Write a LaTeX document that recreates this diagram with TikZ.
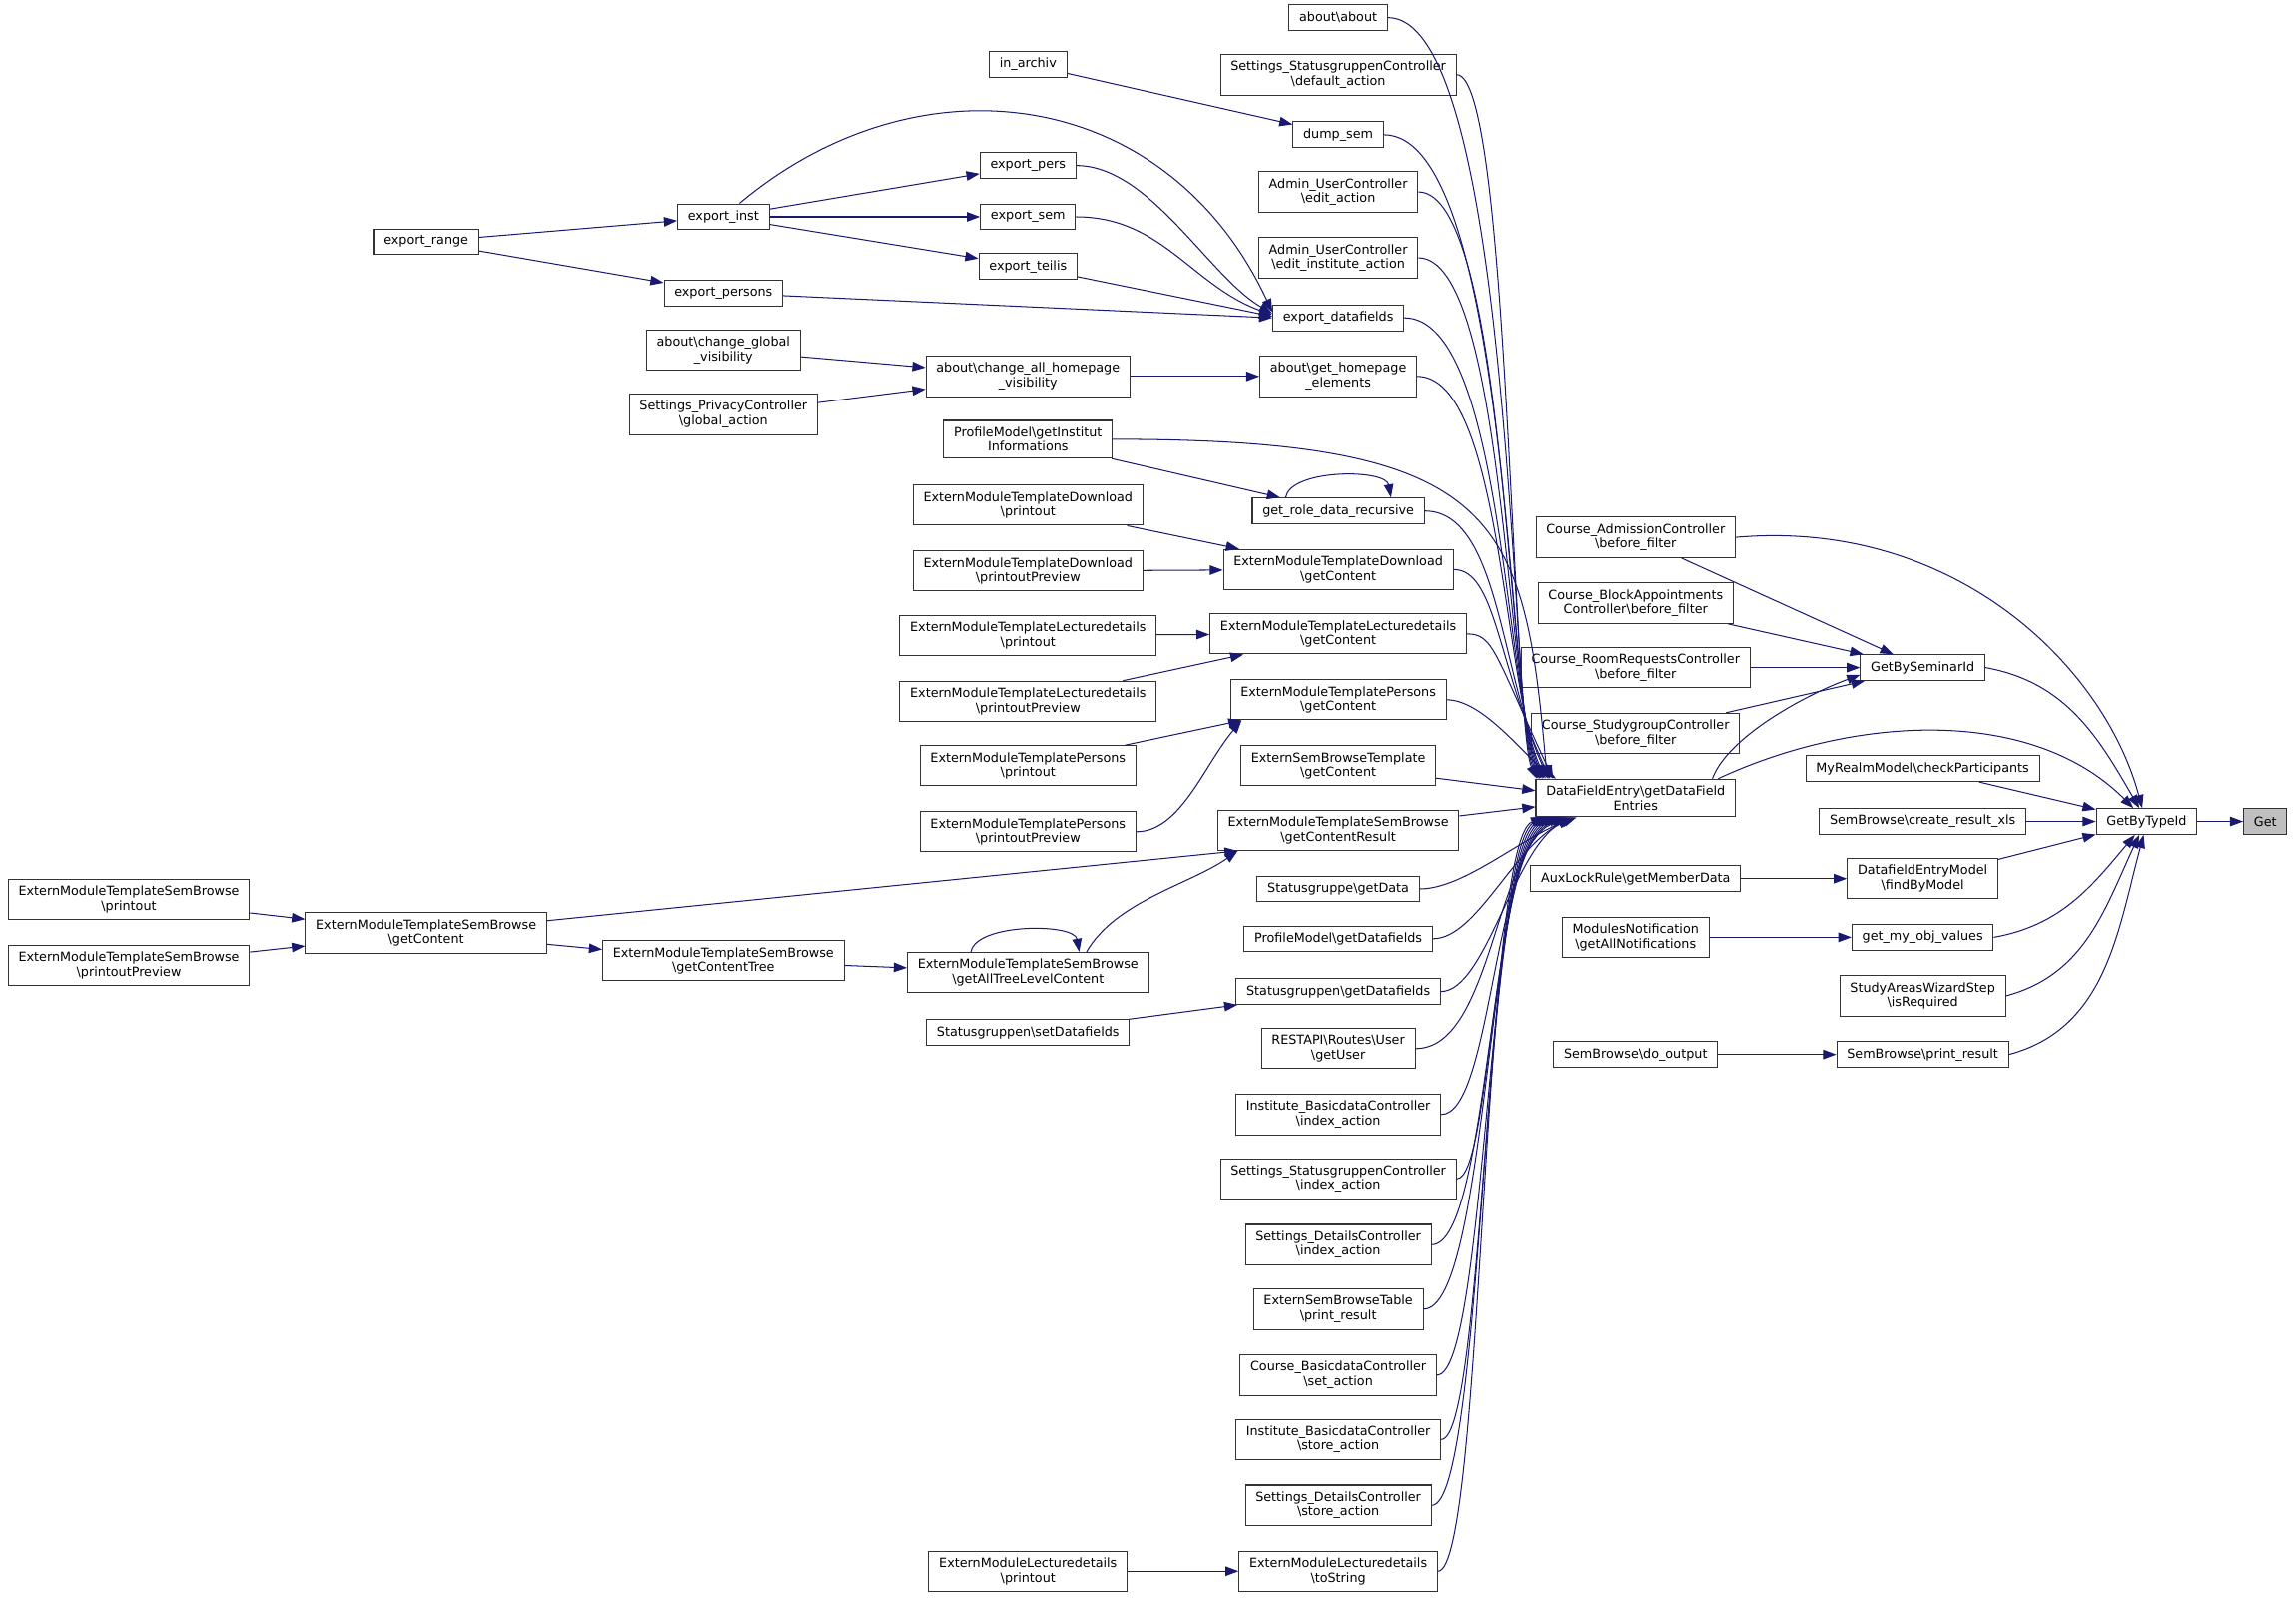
\documentclass[tikz,border=0pt]{standalone}
\usepackage{fontspec}
\usepackage{tikz}
\usetikzlibrary{arrows.meta}

\newfontfamily\graphfont{DejaVu Sans}
\definecolor{edgeblue}{HTML}{191970}
\newcommand{\bsl}{\textbackslash}

\tikzset{
  fn/.style={draw=black!80, line width=0.7pt, fill=white, align=center,
    font=\graphfont\fontsize{8.7}{10}\selectfont,
    inner xsep=7pt, inner ysep=4.5pt, minimum height=17.5pt},
  curfn/.style={fn, fill=black!25},
  call/.style={edgeblue, line width=0.7pt, -{Triangle[length=9pt, width=6.5pt]}}
}

\begin{document}
\begin{tikzpicture}[x=1pt, y=1pt]
        \useasboundingbox (0,0) rectangle (1568,-1092);

        % right part
        \node[curfn] (get) at (1547,-561) {Get};
        \node[fn] (gbt) at (1466,-561) {GetByTypeId};
        \node[fn] (gbs) at (1313,-456) {GetBySeminarId};
        \node[fn] (cpart) at (1313,-525) {MyRealmModel\bsl checkParticipants};
        \node[fn] (crxls) at (1313,-561) {SemBrowse\bsl create\_result\_xls};
        \node[fn] (fbm) at (1313,-600) {DatafieldEntryModel\\\bsl findByModel};
        \node[fn] (gmov) at (1313,-640) {get\_my\_obj\_values};
        \node[fn] (isreq) at (1313,-680) {StudyAreasWizardStep\\\bsl isRequired};
        \node[fn] (sbpr) at (1313,-720) {SemBrowse\bsl print\_result};

        \node[fn] (cadm) at (1117,-367) {Course\_AdmissionController\\\bsl before\_filter};
        \node[fn] (cblk) at (1117,-412) {Course\_BlockAppointments\\Controller\bsl before\_filter};
        \node[fn] (croom) at (1117,-456) {Course\_RoomRequestsController\\\bsl before\_filter};
        \node[fn] (cstud) at (1117,-501) {Course\_StudygroupController\\\bsl before\_filter};
        \node[fn] (dfe) at (1117,-545) {DataFieldEntry\bsl getDataField\\Entries};
        \node[fn] (aux) at (1117,-600) {AuxLockRule\bsl getMemberData};
        \node[fn] (mnot) at (1117,-640) {ModulesNotification\\\bsl getAllNotifications};
        \node[fn] (sbout) at (1117,-720) {SemBrowse\bsl do\_output};

        % callers of DataFieldEntry
        \node[fn] (about) at (914,-12) {about\bsl about};
        \node[fn] (sdef) at (914,-51) {Settings\_StatusgruppenController\\\bsl default\_action};
        \node[fn] (dump) at (914,-92) {dump\_sem};
        \node[fn] (aedit) at (914,-131) {Admin\_UserController\\\bsl edit\_action};
        \node[fn] (aeinst) at (914,-176) {Admin\_UserController\\\bsl edit\_institute\_action};
        \node[fn] (edf) at (914,-217) {export\_datafields};
        \node[fn] (ghome) at (914,-257) {about\bsl get\_homepage\\\_elements};
        \node[fn] (grdr) at (914,-349) {get\_role\_data\_recursive};
        \node[fn] (tdlc) at (914,-389) {ExternModuleTemplateDownload\\\bsl getContent};
        \node[fn] (tlecc) at (914,-433) {ExternModuleTemplateLecturedetails\\\bsl getContent};
        \node[fn] (tpersc) at (914,-478) {ExternModuleTemplatePersons\\\bsl getContent};
        \node[fn] (sbtc) at (914,-523) {ExternSemBrowseTemplate\\\bsl getContent};
        \node[fn] (tsbr) at (914,-567) {ExternModuleTemplateSemBrowse\\\bsl getContentResult};
        \node[fn] (sgdata) at (914,-607) {Statusgruppe\bsl getData};
        \node[fn] (pgdf) at (914,-641) {ProfileModel\bsl getDatafields};
        \node[fn] (sgdf) at (914,-677) {Statusgruppen\bsl getDatafields};
        \node[fn] (rest) at (914,-716) {RESTAPI\bsl Routes\bsl User\\\bsl getUser};
        \node[fn] (ibidx) at (914,-761) {Institute\_BasicdataController\\\bsl index\_action};
        \node[fn] (ssidx) at (914,-805) {Settings\_StatusgruppenController\\\bsl index\_action};
        \node[fn] (sdidx) at (914,-850) {Settings\_DetailsController\\\bsl index\_action};
        \node[fn] (sbtab) at (914,-894) {ExternSemBrowseTable\\\bsl print\_result};
        \node[fn] (cbset) at (914,-939) {Course\_BasicdataController\\\bsl set\_action};
        \node[fn] (ibstore) at (914,-983) {Institute\_BasicdataController\\\bsl store\_action};
        \node[fn] (sdstore) at (914,-1028) {Settings\_DetailsController\\\bsl store\_action};
        \node[fn] (tostr) at (914,-1073) {ExternModuleLecturedetails\\\bsl toString};

        % next column
        \node[fn] (inarch) at (702,-44) {in\_archiv};
        \node[fn] (epers) at (702,-113) {export\_pers};
        \node[fn] (esem) at (702,-148) {export\_sem};
        \node[fn] (eteil) at (702,-182) {export\_teilis};
        \node[fn] (chall) at (702,-257) {about\bsl change\_all\_homepage\\\_visibility};
        \node[fn] (pinst) at (702,-300) {ProfileModel\bsl getInstitut\\Informations};
        \node[fn] (tdlp) at (702,-345) {ExternModuleTemplateDownload\\\bsl printout};
        \node[fn] (tdlpp) at (702,-390) {ExternModuleTemplateDownload\\\bsl printoutPreview};
        \node[fn] (tlecp) at (702,-434) {ExternModuleTemplateLecturedetails\\\bsl printout};
        \node[fn] (tlecpp) at (702,-479) {ExternModuleTemplateLecturedetails\\\bsl printoutPreview};
        \node[fn] (tpersp) at (702,-523) {ExternModuleTemplatePersons\\\bsl printout};
        \node[fn] (tperspp) at (702,-568) {ExternModuleTemplatePersons\\\bsl printoutPreview};
        \node[fn] (tsbatl) at (702,-664) {ExternModuleTemplateSemBrowse\\\bsl getAllTreeLevelContent};
        \node[fn] (sgset) at (702,-705) {Statusgruppen\bsl setDatafields};
        \node[fn] (lecp) at (702,-1073) {ExternModuleLecturedetails\\\bsl printout};

        \node[fn] (einst) at (494,-148) {export\_inst};
        \node[fn] (epersons) at (494,-200) {export\_persons};
        \node[fn] (chglob) at (494,-239) {about\bsl change\_global\\\_visibility};
        \node[fn] (privg) at (494,-283) {Settings\_PrivacyController\\\bsl global\_action};
        \node[fn] (tsbtree) at (494,-656) {ExternModuleTemplateSemBrowse\\\bsl getContentTree};

        \node[fn] (erange) at (291,-165) {export\_range};
        \node[fn] (tsbc) at (291,-637) {ExternModuleTemplateSemBrowse\\\bsl getContent};

        \node[fn] (tsbp) at (88,-614) {ExternModuleTemplateSemBrowse\\\bsl printout};
        \node[fn] (tsbpp) at (88,-659) {ExternModuleTemplateSemBrowse\\\bsl printoutPreview};

        % edges to Get and GetByTypeId
        \path [call] (gbt) edge (get);
        \path [call] (gbs.east) edge[out=-10, in=120] ([xshift=-5]gbt.north);
        \path [call] (cadm.east) edge[out=5, in=105, out distance=150pt, in distance=100pt] ([xshift=-3]gbt.north);
        \path [call] ([xshift=-12]dfe.north east) edge[out=25, in=135, out distance=100pt, in distance=100pt] ([xshift=-9]gbt.north);
        \path [call] (cpart) edge (gbt);
        \path [call] (crxls) edge (gbt);
        \path [call] (fbm) edge (gbt);
        \path [call] (gmov.east) edge[out=10, in=230] ([xshift=-8]gbt.south);
        \path [call] (isreq.east) edge[out=15, in=245] ([xshift=-5]gbt.south);
        \path [call] (sbpr.east) edge[out=15, in=255] ([xshift=-2]gbt.south);

        % edges to GetBySeminarId
        \path [call] (cadm) edge (gbs);
        \path [call] (cblk) edge (gbs);
        \path [call] (croom) edge (gbs);
        \path [call] (cstud) edge (gbs);
        \path [call] ([xshift=-16]dfe.north east) edge[out=70, in=200, out distance=30pt, in distance=40pt] ([yshift=-5]gbs.west);

        \path [call] (aux) edge (fbm);
        \path [call] (mnot) edge (gmov);
        \path [call] (sbout) edge (sbpr);

        % edges to DataFieldEntry, from above
        \path [call] (about.east) edge[out=0, in=115, out distance=85pt, in distance=40pt] ([xshift=1]dfe.north west);
        \path [call] (sdef.east) edge[out=0, in=115, out distance=36pt, in distance=45pt] ([xshift=2]dfe.north west);
        \path [call] (dump.east) edge[out=0, in=115, out distance=85pt, in distance=50pt] ([xshift=3]dfe.north west);
        \path [call] (aedit.east) edge[out=0, in=115, out distance=60pt, in distance=54pt] ([xshift=4]dfe.north west);
        \path [call] (aeinst.east) edge[out=0, in=115, out distance=59pt, in distance=59pt] ([xshift=5]dfe.north west);
        \path [call] (edf.east) edge[out=0, in=115, out distance=68pt, in distance=64pt] ([xshift=6]dfe.north west);
        \path [call] (ghome.east) edge[out=0, in=115, out distance=58pt, in distance=69pt] ([xshift=7]dfe.north west);
        \path [call] (pinst.east) edge[out=0, in=95, out distance=265pt, in distance=180pt] ([xshift=8]dfe.north west);
        \path [call] (grdr.east) edge[out=0, in=115, out distance=51pt, in distance=78pt] ([xshift=9]dfe.north west);
        \path [call] (tdlc.east) edge[out=0, in=115, out distance=29pt, in distance=85pt] ([xshift=10]dfe.north west);
        \path [call] (tlecc.east) edge[out=0, in=115, out distance=18pt, in distance=95pt] ([xshift=12]dfe.north west);
        \path [call] (tpersc.east) edge[out=0, in=145, out distance=25pt, in distance=25pt] ([xshift=14]dfe.north west);
        \path [call] (sbtc) edge ([yshift=5]dfe.west);
        \path [call] (tsbr) edge ([yshift=-6]dfe.west);

        % edges to DataFieldEntry, from below
        \path [call] (sgdata.east) edge[out=0, in=200, out distance=30pt, in distance=40pt] ([xshift=28]dfe.south west);
        \path [call] (pgdf.east) edge[out=0, in=205, out distance=30pt, in distance=45pt] ([xshift=26]dfe.south west);
        \path [call] (sgdf.east) edge[out=0, in=210, out distance=30pt, in distance=45pt] ([xshift=24]dfe.south west);
        \path [call] (rest.east) edge[out=0, in=200, out distance=53pt, in distance=53pt] ([xshift=22]dfe.south west);
        \path [call] (ibidx.east) edge[out=0, in=200, out distance=35pt, in distance=52pt] ([xshift=20]dfe.south west);
        \path [call] (ssidx.east) edge[out=0, in=200, out distance=24pt, in distance=51pt] ([xshift=18]dfe.south west);
        \path [call] (sdidx.east) edge[out=0, in=200, out distance=40pt, in distance=50pt] ([xshift=16]dfe.south west);
        \path [call] (sbtab.east) edge[out=0, in=200, out distance=44pt, in distance=49pt] ([xshift=14]dfe.south west);
        \path [call] (cbset.east) edge[out=0, in=200, out distance=34pt, in distance=48pt] ([xshift=12]dfe.south west);
        \path [call] (ibstore.east) edge[out=0, in=200, out distance=30pt, in distance=47pt] ([xshift=10]dfe.south west);
        \path [call] (sdstore.east) edge[out=0, in=200, out distance=36pt, in distance=46pt] ([xshift=8]dfe.south west);
        \path [call] (tostr.east) edge[out=0, in=200, out distance=31pt, in distance=45pt] ([xshift=6]dfe.south west);

        % export functions
        \path [call] (inarch) edge (dump);
        \path [call] (erange) edge (einst);
        \path [call] (erange) edge (epersons);
        \path [call] (einst) edge (epers);
        \path [call] (einst) edge (esem);
        \path [call] (einst) edge (eteil);
        \path [call] (einst) edge[out=40, in=115, out distance=160pt, in distance=170pt] ([yshift=4]edf.west);
        \path [call] (epers.east) edge[out=0, in=150, out distance=50pt, in distance=50pt] ([yshift=3]edf.west);
        \path [call] (esem.east) edge[out=0, in=160] ([yshift=2]edf.west);
        \path [call] (eteil) edge ([yshift=1]edf.west);
        \path [call] (epersons) edge (edf.west);

        \path [call] (chglob) edge (chall);
        \path [call] (privg) edge (chall);
        \path [call] (chall) edge (ghome);

        \path [call] (pinst) edge (grdr);
        \path [call] ([xshift=-36]grdr.north) edge[out=80, in=100, distance=20pt] ([xshift=36]grdr.north);

        % extern modules
        \path [call] (tdlp) edge (tdlc);
        \path [call] (tdlpp) edge (tdlc);
        \path [call] (tlecp) edge (tlecc);
        \path [call] (tlecpp) edge (tlecc);
        \path [call] (tpersp) edge ([xshift=8]tpersc.south west);
        \path [call] (tperspp.east) edge[out=0, in=230, out distance=30pt, in distance=40pt] ([xshift=8]tpersc.south west);

        \path [call] (tsbp) edge (tsbc);
        \path [call] (tsbpp) edge (tsbc);
        \path [call] (tsbc) edge ([xshift=14]tsbr.south west);
        \path [call] (tsbc) edge (tsbtree);
        \path [call] (tsbtree) edge (tsbatl);
        \path [call] ([xshift=-39]tsbatl.north) edge[out=80, in=100, distance=20pt] ([xshift=35]tsbatl.north);
        \path [call] ([xshift=40]tsbatl.north) edge[out=60, in=215, out distance=40pt, in distance=40pt] ([xshift=14]tsbr.south west);

        \path [call] (sgset) edge (sgdf);
        \path [call] (lecp) edge (tostr);

    \end{tikzpicture}
\end{document}
